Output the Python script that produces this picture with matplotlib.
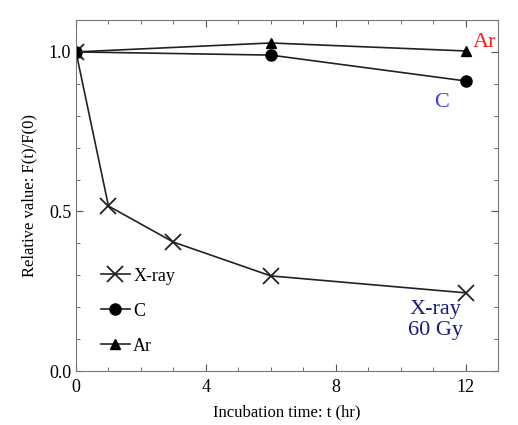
import matplotlib
matplotlib.use('Agg')
import matplotlib.pyplot as plt
from matplotlib.ticker import MultipleLocator

plt.rcParams['font.family'] = ['Liberation Serif', 'DejaVu Serif']

# incubation time (hr) and relative values F(t)/F(0)
t_xray = [0, 1, 3, 6, 12]
f_xray = [1.0, 0.517, 0.404, 0.298, 0.245]
t_c = [0, 6, 12]
f_c = [1.0, 0.99, 0.909]
t_ar = [0, 6, 12]
f_ar = [1.0, 1.028, 1.003]

fig = plt.figure(figsize=(5.18, 4.25), dpi=100)
ax = fig.add_axes([76 / 518, 1 - 371 / 425, 422 / 518, 351 / 425])

ax.plot(t_xray, f_xray, color='#222222', lw=1.2, marker='x', ms=11, mew=1.3,
        mec='#222222', label='X-ray')
ax.plot(t_c, f_c, color='#222222', lw=1.2, marker='o', ms=8, mfc='black',
        mec='black', label='C')
ax.plot(t_ar, f_ar, color='#222222', lw=1.2, marker='^', ms=7, mfc='black',
        mec='black', label='Ar')

ax.set_xlim(0, 13)
ax.set_ylim(0, 1.1)
ax.xaxis.set_major_locator(MultipleLocator(4))
ax.xaxis.set_minor_locator(MultipleLocator(1))
ax.yaxis.set_major_locator(MultipleLocator(0.5))
ax.yaxis.set_minor_locator(MultipleLocator(0.1))
ax.yaxis.set_major_formatter(plt.FormatStrFormatter('%.1f'))
ax.tick_params(which='both', direction='in', top=True, right=True, labelsize=13,
               color='#555555')
ax.tick_params(axis='x', pad=6)
ax.tick_params(which='major', length=5)
ax.tick_params(which='minor', length=3)
for s in ax.spines.values():
    s.set_color('#777777')

ax.set_xlabel('Incubation time: t (hr)', fontsize=12, labelpad=6)
ax.set_ylabel('Relative value: F(t)/F(0)', fontsize=12, labelpad=8)

ax.text(12.22, 1.031, 'Ar', color='#ff1a1a', fontsize=16, ha='left', va='center')
ax.text(11.27, 0.84, 'C', color='#3a3aff', fontsize=16, ha='center', va='center')
ax.text(11.08, 0.16, 'X-ray\n60 Gy', color='#1a1a7a', fontsize=16, ha='center',
        va='center', linespacing=1.15)

ax.legend(loc='lower left', bbox_to_anchor=(0.02, 0.0), frameon=False,
          fontsize=13, handlelength=1.6, labelspacing=1.0, handletextpad=0.2)

fig.savefig('out.png', dpi=100)
